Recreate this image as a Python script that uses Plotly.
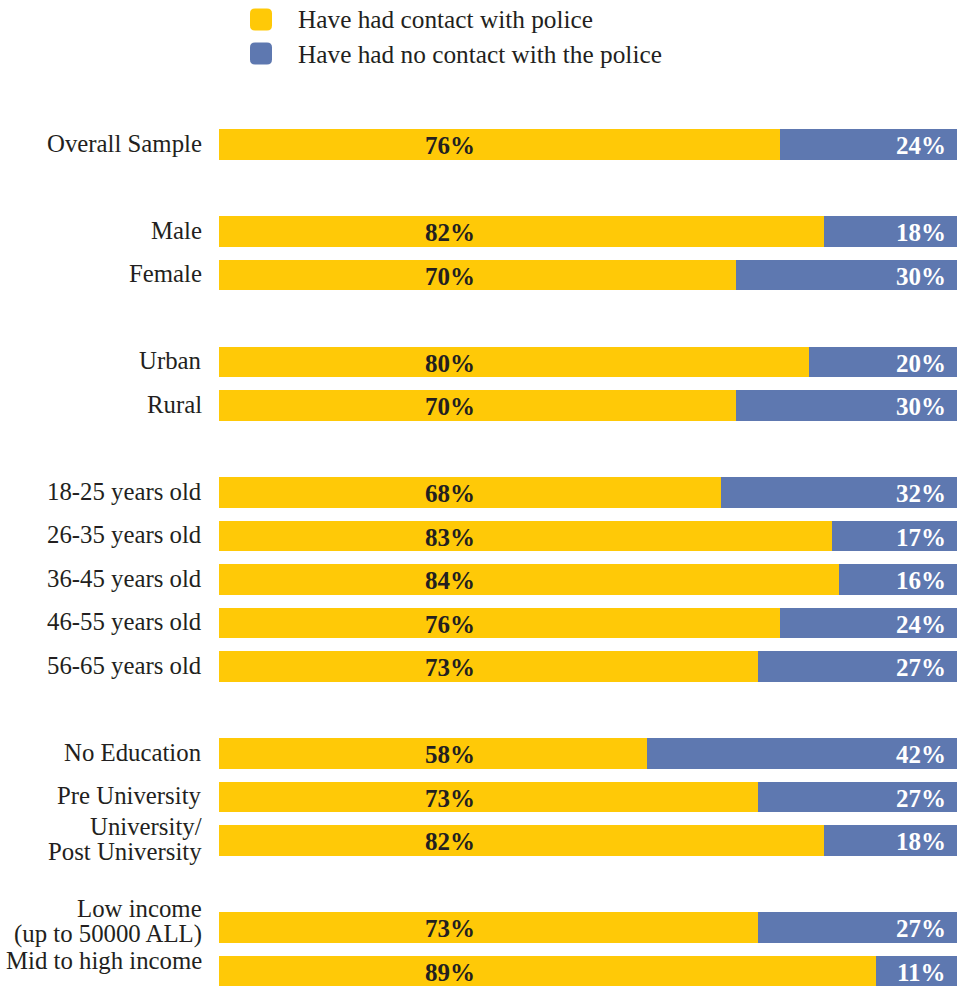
import plotly.graph_objects as go

# ---------------- data ----------------
groups = [
    ["Overall Sample"],
    ["Male", "Female"],
    ["Urban", "Rural"],
    ["18-25 years old", "26-35 years old", "36-45 years old", "46-55 years old", "56-65 years old"],
    ["No Education", "Pre University", "University/\nPost University"],
    ["Low income\n(up to 50000 ALL)", "Mid to high income"],
]
contact = [76, 82, 70, 80, 70, 68, 83, 84, 76, 73, 58, 73, 82, 73, 89]
no_contact = [24, 18, 30, 20, 30, 32, 17, 16, 24, 27, 42, 27, 18, 27, 11]
series_names = ["Have had contact with police", "Have had no contact with the police"]

# ---------------- style ----------------
YELLOW = "#FFC907"
BLUE = "#5E78B0"
DARK = "#231F20"
FONT = "Liberation Serif"
W, H = 957, 986
ML, MT = 219, 100
PW, PH = W - ML, H - MT

# row positions: one empty row between groups
categories, ypos = [], []
pos = 0
for gi, g in enumerate(groups):
    if gi > 0:
        pos += 1
    for c in g:
        categories.append(c)
        ypos.append(pos)
        pos += 1

unit = 43.5  # px per row
top_val = -(144.5 - MT) / unit
bot_val = top_val + PH / unit

fig = go.Figure()
fig.add_trace(go.Bar(y=ypos, x=contact, orientation="h", marker=dict(color=YELLOW, line=dict(width=0)),
                     width=0.71, name=series_names[0], hoverinfo="x"))
fig.add_trace(go.Bar(y=ypos, x=no_contact, orientation="h", marker=dict(color=BLUE, line=dict(width=0)),
                     width=0.71, name=series_names[1], hoverinfo="x"))

annotations = []
# value labels
for y, a, b in zip(ypos, contact, no_contact):
    annotations.append(dict(x=34.95, y=y, xref="x", yref="y", text=f"<b>{a}%</b>", showarrow=False,
                            xanchor="right", yanchor="middle", yshift=-1,
                            font=dict(family=FONT, size=25, color=DARK)))
    annotations.append(dict(x=98.75, y=y, xref="x", yref="y", text=f"<b>{b}%</b>", showarrow=False,
                            xanchor="right", yanchor="middle", yshift=-1,
                            font=dict(family=FONT, size=25, color="white")))

# category labels
label_shift = {"Low income\n(up to 50000 ALL)": 5, "Mid to high income": 9}
for c, y in zip(categories, ypos):
    lines = c.split("\n")
    n = len(lines)
    for i, ln in enumerate(lines):
        off = ((n - 1) / 2 - i) * 25 + label_shift.get(c, 0) + 1.5
        annotations.append(dict(x=0, y=y, xref="paper", yref="y", text=ln, showarrow=False,
                                xanchor="right", yanchor="middle", xshift=-15, yshift=off,
                                font=dict(family=FONT, size=24.8, color=DARK)))


def px2paper(px, py):
    return (px - ML) / PW, (H - py) / PH


def rounded(x0, y0, x1, y1, r):
    def P(x, y):
        X, Y = px2paper(x, y)
        return f"{X:.5f},{Y:.5f}"
    return (f"M {P(x0 + r, y0)} L {P(x1 - r, y0)} Q {P(x1, y0)} {P(x1, y0 + r)} "
            f"L {P(x1, y1 - r)} Q {P(x1, y1)} {P(x1 - r, y1)} L {P(x0 + r, y1)} "
            f"Q {P(x0, y1)} {P(x0, y1 - r)} L {P(x0, y0 + r)} Q {P(x0, y0)} {P(x0 + r, y0)} Z")

shapes = []
for i, (name, col) in enumerate(zip(series_names, [YELLOW, BLUE])):
    cy = 19.5 + i * 34
    shapes.append(dict(type="path", xref="paper", yref="paper",
                       path=rounded(250, cy - 11, 272, cy + 11, 5),
                       fillcolor=col, line=dict(width=0)))
    lx, ly = px2paper(296, cy)
    annotations.append(dict(x=lx, y=ly, xref="paper", yref="paper", text=name, showarrow=False,
                            xanchor="left", yanchor="middle",
                            font=dict(family=FONT, size=25.3, color=DARK)))

fig.update_layout(
    width=W, height=H,
    margin=dict(l=ML, r=0, t=MT, b=0, pad=0),
    barmode="stack", bargap=0,
    showlegend=False,
    plot_bgcolor="white", paper_bgcolor="white",
    xaxis=dict(range=[0, 100], visible=False, fixedrange=True),
    yaxis=dict(range=[bot_val, top_val], visible=False, fixedrange=True),
    annotations=annotations, shapes=shapes,
    font=dict(family=FONT),
)

fig.write_html("out.html")
